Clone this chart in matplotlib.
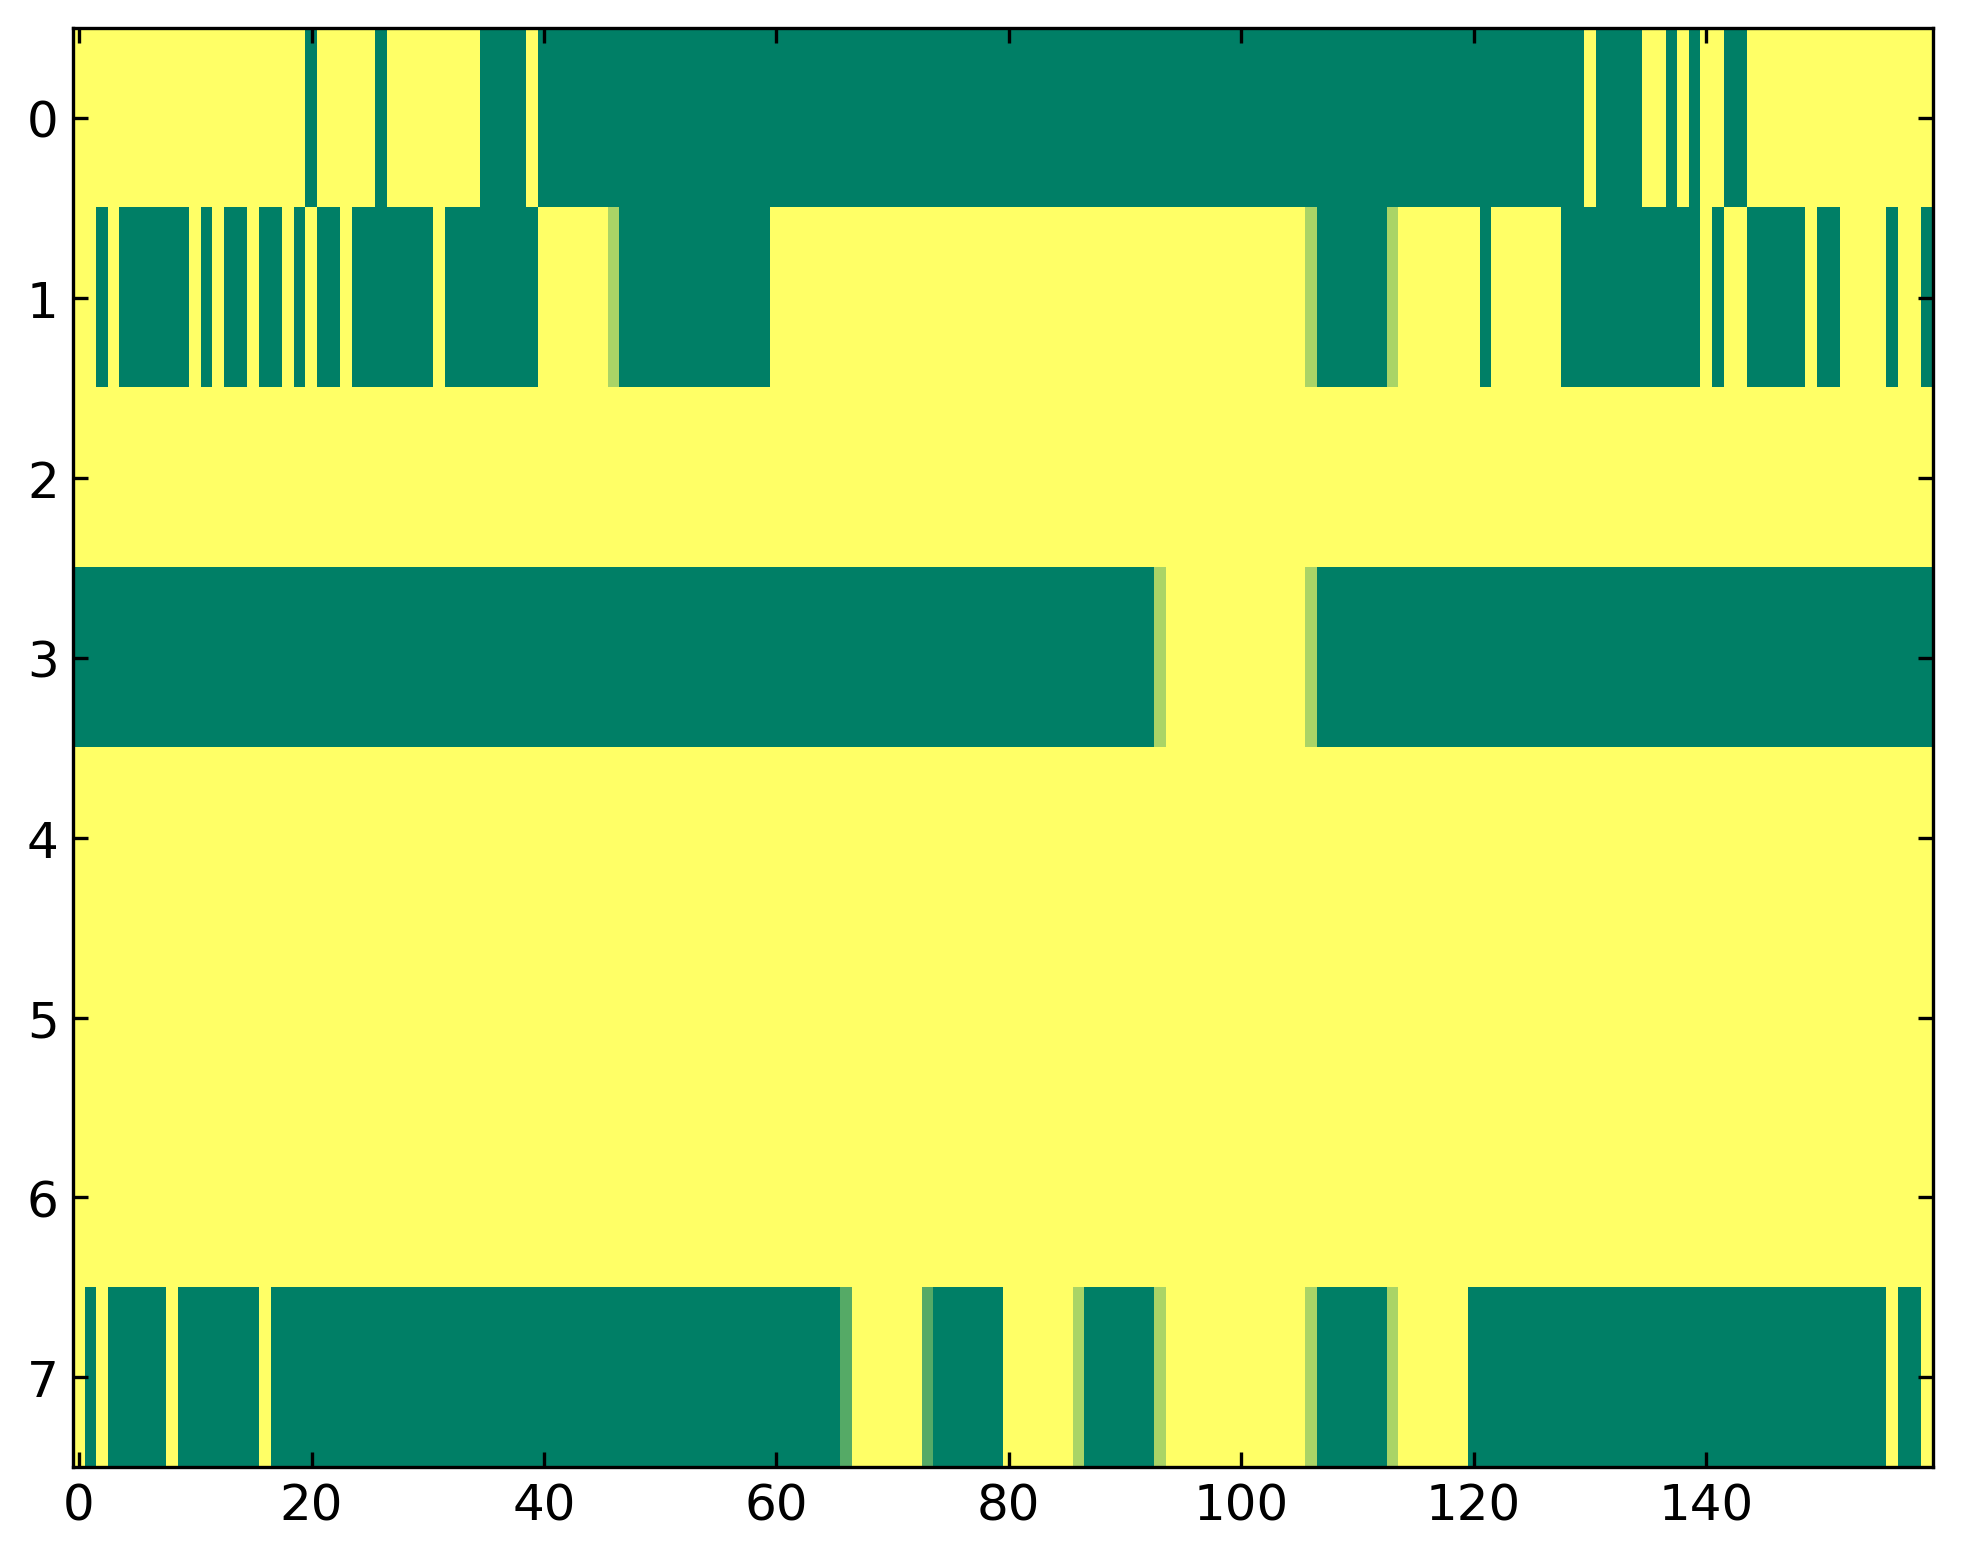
import numpy as np
import matplotlib
matplotlib.use("Agg")
import matplotlib.pyplot as plt

# Levels: 0 = green (low) ... 3 = yellow (high); colormap 'summer', vmin 0, vmax 3
row0 = ("3333333333 3333333333 0333330333 3333300003 0000000000 0000000000 "
        "0000000000 0000000000 0000000000 0000000000 0000000000 0000000000 "
        "0000000000 3000033030 3300333333 3333333333")
row1 = ("3303000000 3030030030 3003000000 0300000000 3333332000 0000000000 "
        "3333333333 3333333333 3333333333 3333333333 3333332000 0002333333 "
        "3033333300 0000000000 3033000003 0033330330")
row2 = ("3333333333 3333333333 3333333333 3333333333 3333333333 3333333333 "
        "3333333333 3333333333 3333333333 3333333333 3333333333 3333333333 "
        "3333333333 3333333333 3333333333 3333333333")
row3 = ("0000000000 0000000000 0000000000 0000000000 0000000000 0000000000 "
        "0000000000 0000000000 0000000000 0002333333 3333332000 0000000000 "
        "0000000000 0000000000 0000000000 0000000000")
row4 = row2
row5 = row2
row6 = row2
row7 = ("3030000030 0000003000 0000000000 0000000000 0000000000 0000000000 "
        "0000001333 3331000000 3333332000 0002333333 3333332000 0002333333 "
        "0000000000 0000000000 0000000000 0000003003")

rows = [row0, row1, row2, row3, row4, row5, row6, row7]
data = np.array([[int(c) for c in r.replace(" ", "")] for r in rows], dtype=float)

xticks = [0, 20, 40, 60, 80, 100, 120, 140]
yticks = [0, 1, 2, 3, 4, 5, 6, 7]

fig = plt.figure(figsize=(1963 / 300, 1564 / 300), dpi=300)
ax = fig.add_axes([73.3 / 1963, 1 - 1468.3 / 1564, (1932.7 - 73.3) / 1963, (1468.3 - 29) / 1564])
ax.imshow(data, cmap="summer", vmin=0, vmax=3, interpolation="nearest", aspect="auto")
ax.set_xticks(xticks)
ax.set_yticks(yticks)
ax.tick_params(direction="in", top=True, right=True, labelsize=12, length=3.5, width=0.8, colors="black")
for s in ax.spines.values():
    s.set_linewidth(0.8)
    s.set_color("black")
fig.savefig("out.png", dpi=300)
